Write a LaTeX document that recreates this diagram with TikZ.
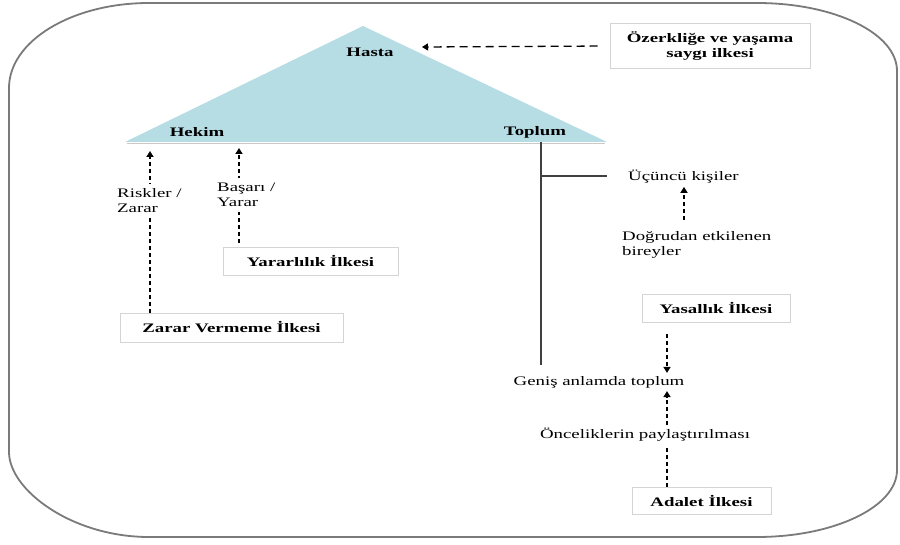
\documentclass[tikz,border=0pt]{standalone}
\usepackage{fontspec}
\setmainfont{Liberation Serif}[FakeStretch=1.45]
\usetikzlibrary{arrows.meta}
\definecolor{triblue}{HTML}{B6DCE4}
\definecolor{framegray}{HTML}{7A7A7A}
\definecolor{boxgray}{HTML}{D4D4D4}
\definecolor{stemgray}{HTML}{404040}
\tikzset{
  txt/.style={font=\fontsize{13}{15}\selectfont, inner sep=3pt, align=left},
  bold/.style={txt, font=\fontsize{13}{15}\selectfont\bfseries},
  box/.style={bold, draw=boxgray, line width=0.8pt, fill=white, align=center},
  lbl/.style={txt, fill=white, inner sep=5pt},
  vdash/.style={line width=1.7pt, dash pattern=on 4pt off 3pt},
  varr/.style={vdash, -{Triangle[width=7pt,length=6pt]}},
  harr/.style={line width=1.3pt, dash pattern=on 8pt off 5pt, -{Triangle[width=7pt,length=6pt]}},
  stem/.style={draw=stemgray, line width=1.3pt}
}
\begin{document}
\begin{tikzpicture}[x=1pt,y=-1pt]
\useasboundingbox (0,0) rectangle (900,545);

% outer frame
\draw[framegray, line width=1.8pt]
  (149,3) -- (757,3)
  .. controls (834,3) and (897,33) .. (897,71) -- (897,470)
  .. controls (897,507) and (834,537) .. (757,537) -- (149,537)
  .. controls (72,537) and (9,490) .. (9,452) -- (9,88)
  .. controls (9,41) and (72,3) .. (149,3) -- cycle;

% triangle
\draw[black!35, line width=1.6pt, opacity=0.6] (127,143.5) -- (605,143.5);
\fill[triblue] (363,26) -- (607,142) -- (125,142) -- cycle;
\node[bold] (hasta) at (370,52) {Hasta};
\node[bold] (hekim) at (197,132) {Hekim};
\node[bold] (toplum) at (535,132) {Toplum};

% principle boxes
\node[box, minimum width=200pt, minimum height=45pt] (ozr) at (710,46)
  {Özerkliğe ve yaşama\\saygı ilkesi};
\node[box, minimum width=223pt, minimum height=29pt] (zarar) at (231.5,327.5) {Zarar Vermeme İlkesi};
\node[box, minimum width=175pt, minimum height=28pt] (yarar) at (310.5,261) {Yararlılık İlkesi};
\node[box, minimum width=148pt, minimum height=28pt] (yasal) at (716,308) {Yasallık İlkesi};
\node[box, minimum width=139pt, minimum height=27pt] (adalet) at (701.5,500.5) {Adalet İlkesi};

% anchor points on the triangle and columns
\coordinate (hastain) at (422,47);
\coordinate (hk1) at (150,151);
\coordinate (hk2) at (239,148);
\coordinate (tbase) at (541,142);
\coordinate (tfoot) at (541,365);
\coordinate (tbranch) at (541,176);
\coordinate (colA) at (684,0);
\coordinate (colB) at (667,0);

% Hasta
\draw[harr, shorten <=12pt] (ozr.west) -- (hastain);

% Hekim
\draw[varr] (zarar.north -| hk1) -- (hk1);
\draw[varr, shorten <=4pt] (yarar.north -| hk2) -- (hk2);
\node[lbl, anchor=west] (risk) at (112,201) {Riskler /\\Zarar};
\node[lbl, anchor=west] (basari) at (212,195) {Başarı /\\Yarar};

% Toplum
\node[txt, anchor=west] (ucuncu) at (625,177) {Üçüncü kişiler};
\node[txt, anchor=west] (dogrudan) at (619,245) {Doğrudan etkilenen\\bireyler};
\node[txt] (genis) at (599,382) {Geniş anlamda toplum};
\node[txt] (oncelik) at (645,435) {Önceliklerin paylaştırılması};

\draw[stem] (tbase) -- (tfoot);
\draw[stem, shorten >=18pt] (tbranch) -- (tbranch -| ucuncu.west);
\draw[varr, shorten <=8pt] (dogrudan.north -| colA) -- (ucuncu.south -| colA);
\draw[varr, shorten <=12pt] (yasal.south -| colB) -- (genis.north -| colB);
\draw[varr] (oncelik.north -| colB) -- (genis.south -| colB);
\draw[vdash] (adalet.north -| colB) -- (oncelik.south -| colB);
\end{tikzpicture}
\end{document}
